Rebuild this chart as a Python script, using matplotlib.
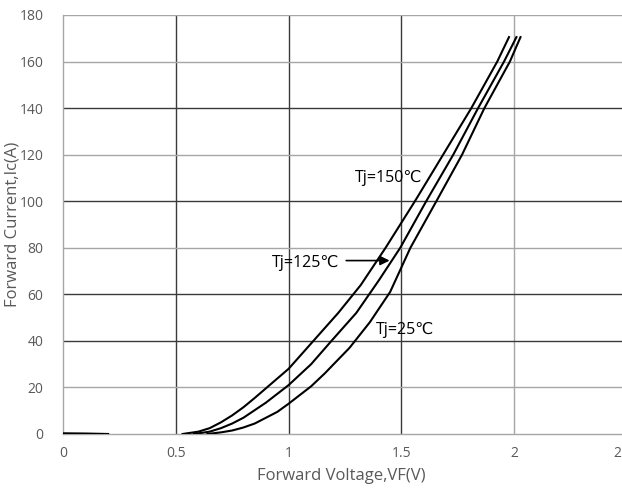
import numpy as np
import matplotlib
matplotlib.use('Agg')
import matplotlib.pyplot as plt
import matplotlib.transforms as mtransforms

plt.rcParams['font.family'] = ['Open Sans', 'DejaVu Sans']

# forward characteristics
vf_150 = [0.53, 0.60, 0.65, 0.70, 0.75, 0.80, 0.85, 0.94, 1.00, 1.11, 1.22, 1.32, 1.43, 1.56, 1.685, 1.81, 1.925, 1.977]
ic_150 = [0, 1, 2.5, 5, 8, 11.5, 15.5, 23, 28, 40, 52, 64, 80, 100, 120, 140, 160, 170.5]

vf_125 = [0.58, 0.65, 0.70, 0.75, 0.80, 0.90, 0.98, 1.00, 1.10, 1.19, 1.30, 1.40, 1.495, 1.61, 1.73, 1.84, 1.955, 2.01]
ic_125 = [0, 1, 2.5, 4.5, 7, 13.5, 19.5, 21, 30, 40, 52, 66, 80, 100, 120, 140, 160, 170.5]

vf_25 = [0.64, 0.70, 0.75, 0.80, 0.85, 0.95, 1.00, 1.10, 1.16, 1.27, 1.36, 1.45, 1.54, 1.655, 1.769, 1.868, 1.981, 2.028]
ic_25 = [0, 0.7, 1.5, 2.8, 4.5, 9.5, 13, 20.5, 26, 37, 48, 61, 80, 100, 120, 140, 160, 170.5]

vf_leak = [0, 0.1, 0.2]
ic_leak = [0.3, 0.2, 0]

xticks = [0, 0.5, 1, 1.5, 2, 2.5]
xtick_labels = ['0', '0.5', '1', '1.5', '2', '2']
yticks = [0, 20, 40, 60, 80, 100, 120, 140, 160, 180]

fig = plt.figure(figsize=(6.22, 4.9), dpi=100)
ax = fig.add_axes([0.1013, 0.1143, 0.9067, 0.8551])

# gridlines: some render dark, some light in the original
dark = '#3a3a3a'
light = '#a6a6a6'
for xv, c in [(0.5, dark), (1, dark), (1.5, dark), (2, light)]:
    ax.axvline(xv, color=c, lw=1, zorder=1)
for yv, c in [(20, light), (40, dark), (60, dark), (80, light), (100, dark),
              (120, light), (140, dark), (160, light), (180, light)]:
    ax.axhline(yv, color=c, lw=1, zorder=1)

ax.plot(vf_leak, ic_leak, color='black', lw=1.5, zorder=3)
ax.plot(vf_150, ic_150, color='black', lw=1.5, zorder=3, solid_joinstyle='round')
ax.plot(vf_125, ic_125, color='black', lw=1.5, zorder=3, solid_joinstyle='round')
ax.plot(vf_25, ic_25, color='black', lw=1.5, zorder=3, solid_joinstyle='round')

ax.text(1.296, 110, 'Tj=150℃', fontsize=11.5, va='center', ha='left')
ax.text(0.928, 73.5, 'Tj=125℃', fontsize=11.5, va='center', ha='left')
ax.text(1.385, 44.7, 'Tj=25℃', fontsize=11.5, va='center', ha='left')
ax.annotate('', xy=(1.46, 74.5), xytext=(1.243, 74.5),
            arrowprops=dict(arrowstyle='-|>', color='black', lw=1.2, mutation_scale=14))

ax.set_xlim(0, 2.5)
ax.set_ylim(0, 180)
ax.set_xticks(xticks)
ax.set_xticklabels(xtick_labels)
ax.set_yticks(yticks)
ax.tick_params(length=0, colors='#595959', labelsize=10, pad=9)
ax.tick_params(axis='y', pad=14)
# last tick label sits at the figure edge; nudge it in
last = ax.get_xticklabels()[-1]
last.set_transform(last.get_transform() + mtransforms.ScaledTranslation(-10 / 100, 0, fig.dpi_scale_trans))
for s in ['top', 'right']:
    ax.spines[s].set_visible(False)
for s in ['left', 'bottom']:
    ax.spines[s].set_color(light)
    ax.spines[s].set_linewidth(1)

fig.text(0.02, 0.543, 'Forward Current,Ic(A)', fontsize=12, color='#595959',
         rotation=90, ha='center', va='center')
fig.text(0.549, 0.02, 'Forward Voltage,VF(V)', fontsize=12, color='#595959', ha='center')

fig.savefig('out.png', dpi=100)
